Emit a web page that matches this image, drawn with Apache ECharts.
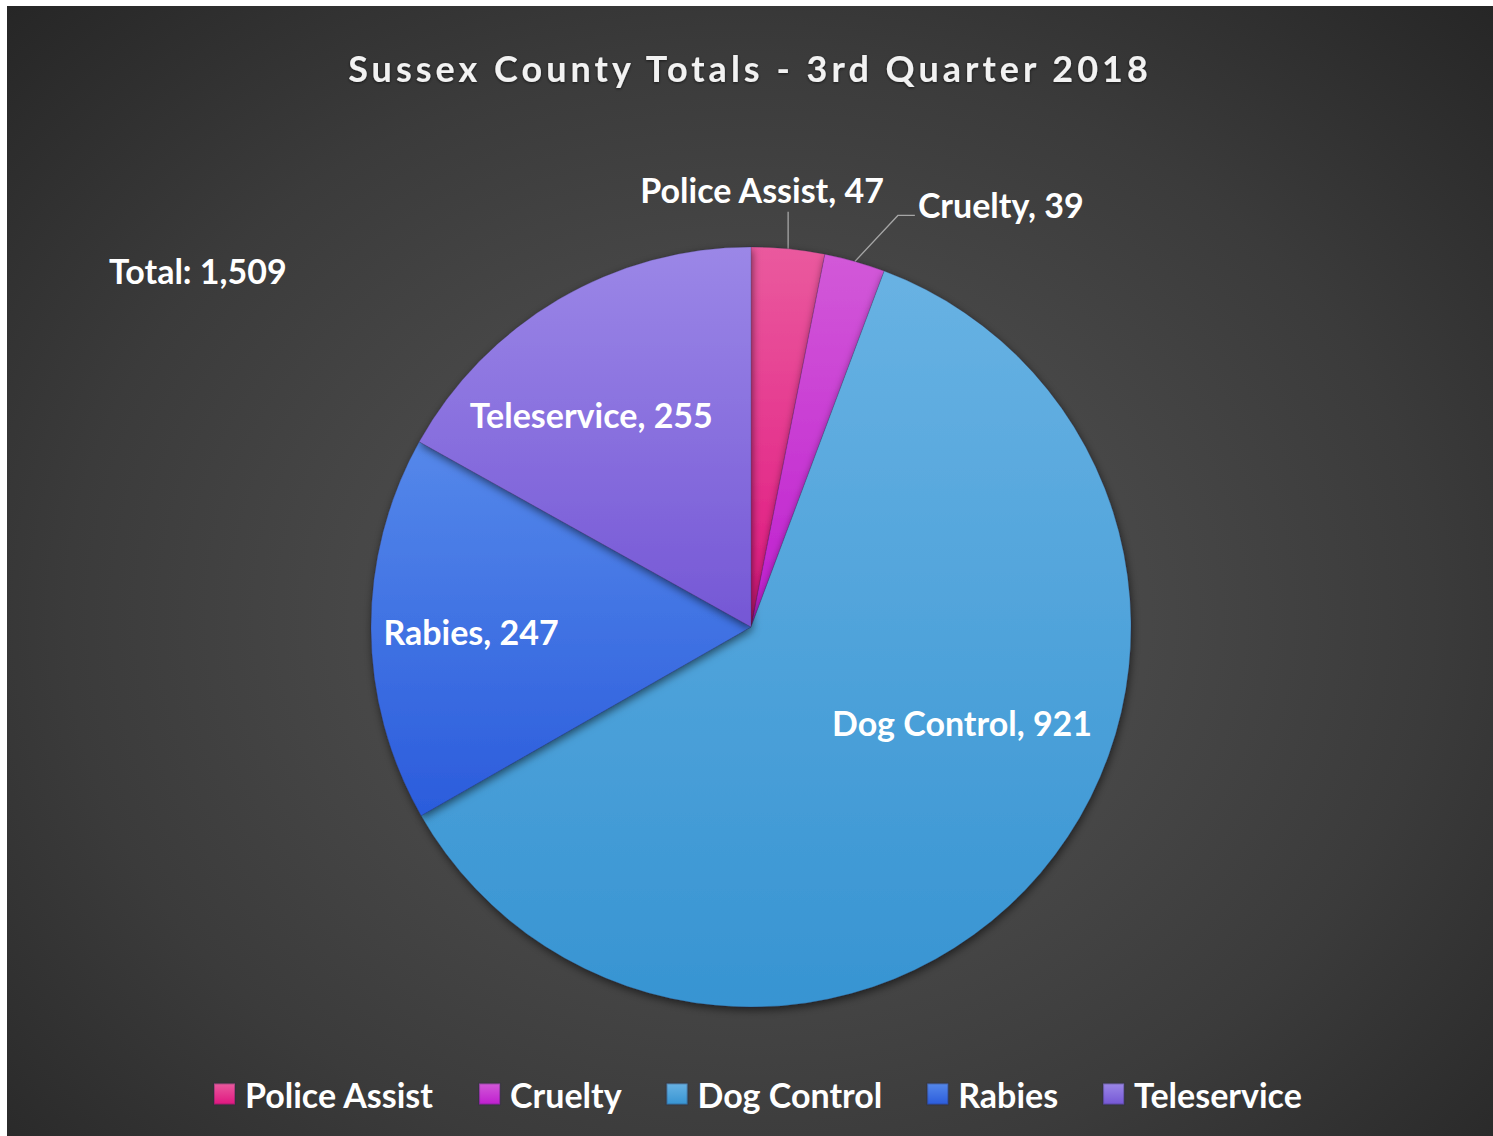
<!DOCTYPE html>
<html>
<head>
<meta charset="utf-8">
<script src="https://cdn.jsdelivr.net/npm/echarts@6/dist/echarts.min.js"></script>
<style>
  html, body { margin: 0; padding: 0; background: #ffffff; width: 1493px; height: 1136px; overflow: hidden; }
  #chart {
    position: absolute; left: 7px; top: 6px; width: 1486px; height: 1130px;
    background: radial-gradient(ellipse farthest-corner at 50% 54%, #4f4f4f 0%, #474747 38%, #3b3b3b 65%, #262626 100%);
  }
</style>
</head>
<body>
<div id="chart"></div>
<script>
// ---- data ----
const categories = ['Police Assist', 'Cruelty', 'Dog Control', 'Rabies', 'Teleservice'];
const values = [47, 39, 921, 247, 255];
const titleText = 'Sussex County Totals - 3rd Quarter 2018';

// ---- styles ----
const gradientStops = [
  ['#ea5a9e', '#e01680'],
  ['#d259d8', '#bf1ecf'],
  ['#68b2e3', '#3794d2'],
  ['#5588ea', '#2b5cdc'],
  ['#9b87e7', '#7557d5']
];
const FONT = 'Lato, "Open Sans", sans-serif';

const total = values.reduce((a, b) => a + b, 0);

function grad(i) {
  return {
    type: 'linear', x: 0, y: 0, x2: 0, y2: 1,
    colorStops: [{ offset: 0, color: gradientStops[i][0] }, { offset: 1, color: gradientStops[i][1] }]
  };
}

// label adjustments relative to library-computed positions
const insideShift = { 2: [64, -30], 3: [-87, 3], 4: [-62, -46] };

const chart = echarts.init(document.getElementById('chart'), null, { renderer: 'svg' });

const option = {
  backgroundColor: 'transparent',
  animation: false,
  title: [
    {
      text: titleText,
      left: 'center',
      top: 39,
      textStyle: {
        color: '#f2f2f2', fontFamily: FONT, fontWeight: 'bold', fontSize: 36,
        textShadowColor: 'rgba(0,0,0,0.6)', textShadowBlur: 3, textShadowOffsetY: 1
      }
    },
    {
      text: 'Total: ' + total.toLocaleString('en-US'),
      left: 97,
      top: 242,
      textStyle: { color: '#ffffff', fontFamily: FONT, fontWeight: 'bold', fontSize: 34 }
    }
  ],
  legend: {
    bottom: 20,
    left: 201,
    itemWidth: 21,
    itemHeight: 21,
    itemGap: 44,
    icon: 'rect',
    data: categories,
    textStyle: { color: '#ffffff', fontFamily: FONT, fontWeight: 'bold', fontSize: 34, padding: [0, 0, 0, 5] }
  },
  series: [{
    type: 'pie',
    center: [744, 621],
    radius: 380,
    startAngle: 90,
    clockwise: true,
    avoidLabelOverlap: false,
    silent: true,
    itemStyle: {
      borderColor: 'rgba(40,40,70,0.3)',
      borderWidth: 0.7,
      shadowColor: 'rgba(0,0,0,0.55)',
      shadowBlur: 8,
      shadowOffsetX: 1,
      shadowOffsetY: 3
    },
    label: {
      color: '#ffffff', fontFamily: FONT, fontWeight: 'bold', fontSize: 34,
      formatter: p => p.name + ', ' + p.value.toLocaleString('en-US')
    },
    labelLine: { lineStyle: { color: '#a6a6a6', width: 1.3 } },
    labelLayout: function (params) {
      const i = params.dataIndex;
      const r = params.labelRect;
      if (insideShift[i]) {
        return {
          x: r.x + r.width / 2 + insideShift[i][0],
          y: r.y + r.height / 2 + insideShift[i][1],
          align: 'center', verticalAlign: 'middle'
        };
      }
      const pts = params.labelLinePoints;
      if (!pts) return {};
      const p0 = pts[0];
      if (i === 0) {
        return {
          x: p0[0] - 26, y: p0[1] - 59, align: 'center', verticalAlign: 'middle',
          labelLinePoints: [p0, [p0[0], p0[1] - 37]]
        };
      }
      return {
        x: p0[0] + 63, y: p0[1] - 57, align: 'left', verticalAlign: 'middle',
        labelLinePoints: [p0, [p0[0] + 43, p0[1] - 46], [p0[0] + 60, p0[1] - 46]]
      };
    },
    data: categories.map((c, i) => {
      const outside = i < 2;
      return {
        name: c,
        value: values[i],
        itemStyle: { color: grad(i) },
        label: { position: outside ? 'outside' : 'inside' },
        labelLine: { show: outside }
      };
    })
  }]
};

chart.setOption(option);

function applySpacing() {
  const texts = document.querySelectorAll('#chart svg text');
  texts.forEach(t => {
    if (t.textContent === titleText) {
      t.setAttribute('letter-spacing', '4px');
    }
  });
}
applySpacing();
chart.on('finished', applySpacing);
</script>
</body>
</html>
